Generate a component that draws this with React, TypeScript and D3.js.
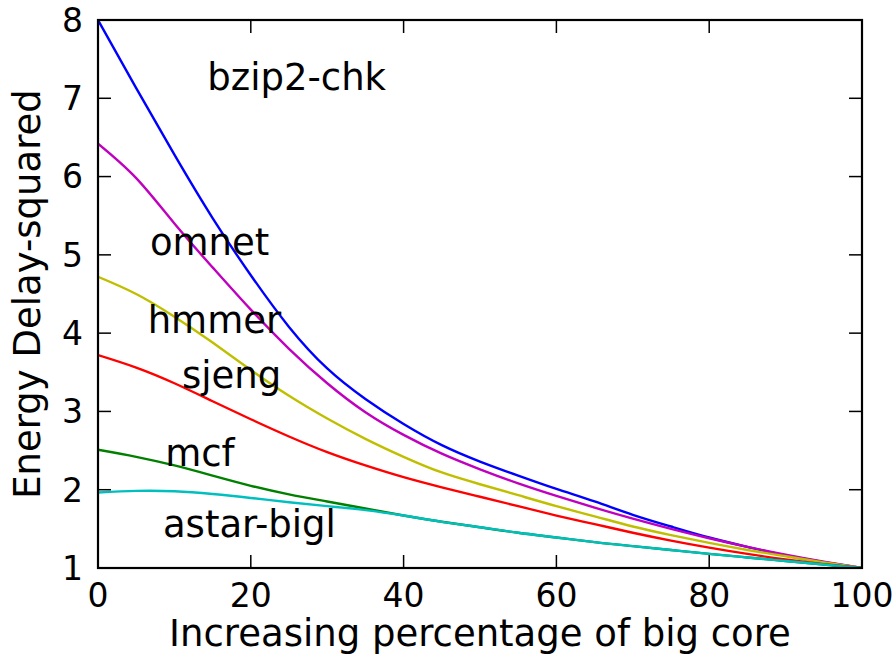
import React from "react";
import * as d3 from "d3";

// Share of work on the big core (%)
const bigCorePct = [0, 5, 10, 15, 20, 25, 30, 35, 40, 45, 50, 55, 60, 65, 70, 75, 80, 85, 90, 95, 100];

// Energy-delay² per benchmark, normalised to the all-big-core configuration
const bzip2Chk = [8.0, 7.13, 6.28, 5.47, 4.74, 4.08, 3.55, 3.16, 2.84, 2.57, 2.36, 2.18, 2.01, 1.85, 1.68, 1.53, 1.39, 1.27, 1.16, 1.075, 1.0];
const omnet = [6.42, 5.98, 5.4, 4.84, 4.3, 3.8, 3.36, 2.99, 2.7, 2.46, 2.26, 2.08, 1.92, 1.77, 1.63, 1.5, 1.38, 1.27, 1.17, 1.08, 1.0];
const hmmer = [4.72, 4.5, 4.21, 3.88, 3.53, 3.2, 2.91, 2.65, 2.42, 2.22, 2.07, 1.93, 1.79, 1.66, 1.53, 1.42, 1.32, 1.23, 1.15, 1.07, 1.0];
const sjeng = [3.72, 3.56, 3.36, 3.13, 2.9, 2.68, 2.48, 2.31, 2.16, 2.03, 1.91, 1.79, 1.67, 1.56, 1.45, 1.35, 1.26, 1.18, 1.11, 1.05, 1.0];
const mcf = [2.51, 2.42, 2.31, 2.18, 2.05, 1.94, 1.85, 1.76, 1.67, 1.59, 1.52, 1.45, 1.39, 1.33, 1.28, 1.23, 1.18, 1.135, 1.09, 1.045, 1.0];
const astarBigl = [1.965, 1.985, 1.98, 1.945, 1.895, 1.84, 1.79, 1.74, 1.67, 1.59, 1.52, 1.45, 1.39, 1.33, 1.28, 1.23, 1.18, 1.135, 1.09, 1.045, 1.0];

const seriesNames = ["bzip2-chk", "omnet", "hmmer", "sjeng", "mcf", "astar-bigl"];
const seriesValues = [bzip2Chk, omnet, hmmer, sjeng, mcf, astarBigl];
const seriesColors = ["#0000ff", "#bf00bf", "#bfbf00", "#ff0000", "#008000", "#00bfbf"];

// Where each benchmark name is written, in data units (left edge, baseline)
const labelX = [14.3, 6.8, 6.5, 11.0, 8.8, 8.5];
const labelY = [7.1, 5.0, 4.0, 3.3, 2.3, 1.4];

const xTicks = [0, 20, 40, 60, 80, 100];
const yTicks = [1, 2, 3, 4, 5, 6, 7, 8];

const W = 896;
const H = 657;
const left = 98;
const right = 862;
const top = 20;
const bottom = 568;
const FONT = "'DejaVu Sans', sans-serif";

export default function App() {
  const x = d3.scaleLinear().domain([0, 100]).range([left, right]);
  const y = d3.scaleLinear().domain([1, 8]).range([bottom, top]);
  const line = d3
    .line<number>()
    .x((_, i) => x(bigCorePct[i]))
    .y((d) => y(d))
    .curve(d3.curveNatural);
  const tickLen = 13;

  return (
    <svg width={W} height={H} style={{ position: "absolute", left: 0, top: 0, background: "#fff" }}>
      <defs>
        <clipPath id="plotArea">
          <rect x={left} y={top} width={right - left} height={bottom - top} />
        </clipPath>
      </defs>
      <rect x={0} y={0} width={W} height={H} fill="#fff" />

      <g clipPath="url(#plotArea)">
        {seriesValues.map((vals, k) => (
          <path key={seriesNames[k]} d={line(vals) || ""} fill="none" stroke={seriesColors[k]} strokeWidth={2.4} />
        ))}
      </g>

      {seriesNames.map((name, k) => (
        <text key={name} x={x(labelX[k])} y={y(labelY[k])} fontFamily={FONT} fontSize={37} fill="#000">
          {name}
        </text>
      ))}

      {/* ticks on all four sides, pointing inward */}
      {xTicks.map((t) => (
        <g key={"x" + t}>
          <line x1={x(t)} x2={x(t)} y1={bottom} y2={bottom - tickLen} stroke="#000" strokeWidth={1.5} />
          <line x1={x(t)} x2={x(t)} y1={top} y2={top + tickLen} stroke="#000" strokeWidth={1.5} />
          <text x={x(t)} y={607} textAnchor="middle" fontFamily={FONT} fontSize={33} fill="#000">
            {t}
          </text>
        </g>
      ))}
      {yTicks.map((t) => (
        <g key={"y" + t}>
          <line x1={left} x2={left + tickLen} y1={y(t)} y2={y(t)} stroke="#000" strokeWidth={1.5} />
          <line x1={right} x2={right - tickLen} y1={y(t)} y2={y(t)} stroke="#000" strokeWidth={1.5} />
          <text x={83} y={y(t)} dy="0.36em" textAnchor="end" fontFamily={FONT} fontSize={33} fill="#000">
            {t}
          </text>
        </g>
      ))}

      <rect x={left} y={top} width={right - left} height={bottom - top} fill="none" stroke="#000" strokeWidth={2.2} />

      <text x={(left + right) / 2} y={646} textAnchor="middle" fontFamily={FONT} fontSize={37} fill="#000">
        Increasing percentage of big core
      </text>
      <text
        transform={`translate(40, ${(top + bottom) / 2}) rotate(-90)`}
        textAnchor="middle"
        fontFamily={FONT}
        fontSize={37}
        fill="#000"
      >
        Energy Delay-squared
      </text>
    </svg>
  );
}
